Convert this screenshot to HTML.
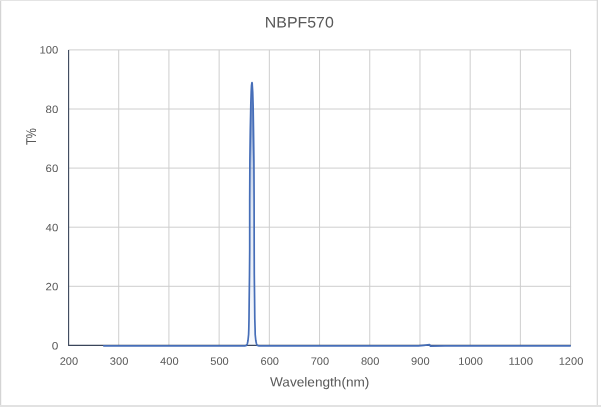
<!DOCTYPE html>
<html lang="en"><head><meta charset="utf-8"><title>NBPF570</title>
<style>
html,body{margin:0;padding:0;background:#fff;}
body{width:601px;height:407px;overflow:hidden;}
svg{display:block;}
text{font-family:"Liberation Sans",sans-serif;fill:#595959;}
</style></head><body>
<svg width="601" height="407" viewBox="0 0 601 407">
<rect x="0" y="0" width="601" height="407" fill="#ffffff"/>

<rect x="0" y="0" width="1" height="406" fill="#d4d4d4"/>
<rect x="0" y="0" width="598" height="1" fill="#e4e4e4"/>
<rect x="1" y="1" width="1" height="404" fill="#f6f6f6"/>
<rect x="596.7" y="0" width="1.2" height="406" fill="#d6d6d6"/>
<rect x="0" y="405" width="601" height="2" fill="#e2e2e2"/>
<line x1="118.71" y1="49.90" x2="118.71" y2="345.40" stroke="#cecece" stroke-width="1"/>
<line x1="168.92" y1="49.90" x2="168.92" y2="345.40" stroke="#cecece" stroke-width="1"/>
<line x1="219.13" y1="49.90" x2="219.13" y2="345.40" stroke="#cecece" stroke-width="1"/>
<line x1="269.34" y1="49.90" x2="269.34" y2="345.40" stroke="#cecece" stroke-width="1"/>
<line x1="319.55" y1="49.90" x2="319.55" y2="345.40" stroke="#cecece" stroke-width="1"/>
<line x1="369.76" y1="49.90" x2="369.76" y2="345.40" stroke="#cecece" stroke-width="1"/>
<line x1="419.97" y1="49.90" x2="419.97" y2="345.40" stroke="#cecece" stroke-width="1"/>
<line x1="470.18" y1="49.90" x2="470.18" y2="345.40" stroke="#cecece" stroke-width="1"/>
<line x1="520.39" y1="49.90" x2="520.39" y2="345.40" stroke="#cecece" stroke-width="1"/>
<line x1="570.60" y1="49.90" x2="570.60" y2="345.40" stroke="#cecece" stroke-width="1"/>
<line x1="68.50" y1="49.90" x2="571.10" y2="49.90" stroke="#cecece" stroke-width="1"/>
<line x1="68.50" y1="109.00" x2="571.10" y2="109.00" stroke="#cecece" stroke-width="1"/>
<line x1="68.50" y1="168.10" x2="571.10" y2="168.10" stroke="#cecece" stroke-width="1"/>
<line x1="68.50" y1="227.20" x2="571.10" y2="227.20" stroke="#cecece" stroke-width="1"/>
<line x1="68.50" y1="286.30" x2="571.10" y2="286.30" stroke="#cecece" stroke-width="1"/>
<polyline fill="none" stroke="#3a455a" stroke-width="1.1" stroke-linejoin="round" points="68.60,49.90 68.60,345.40 570.60,345.40"/>
<defs><linearGradient id="pk" gradientUnits="userSpaceOnUse" x1="0" y1="82" x2="0" y2="345"><stop offset="0" stop-color="#466eb8" stop-opacity="0.85"/><stop offset="0.2" stop-color="#466eb8" stop-opacity="0.6"/><stop offset="0.32" stop-color="#466eb8" stop-opacity="0.3"/><stop offset="0.5" stop-color="#466eb8" stop-opacity="0.14"/><stop offset="1" stop-color="#466eb8" stop-opacity="0.04"/></linearGradient></defs>
<polygon fill="url(#pk)" stroke="none" points="245.30,345.80 246.40,345.40 247.00,344.60 247.40,343.40 247.70,342.00 247.95,340.50 248.30,337.50 248.55,334.50 248.75,329.00 248.95,319.00 249.20,300.00 249.50,275.00 249.65,250.00 249.72,200.00 249.90,160.00 250.30,130.00 250.75,105.00 251.15,92.00 251.50,85.50 251.75,83.40 252.00,82.50 252.20,83.40 252.30,85.50 252.65,92.00 253.05,105.00 253.50,130.00 253.90,160.00 254.08,200.00 254.15,250.00 254.30,275.00 254.60,300.00 254.85,319.00 255.05,329.00 255.25,334.50 255.50,337.50 255.85,340.50 256.10,342.00 256.40,343.40 256.80,344.60 257.40,345.40 258.50,345.80"/>
<polyline fill="none" stroke="#466eb8" stroke-width="1.7" stroke-linejoin="round" stroke-linecap="butt" points="103.2,345.8 150.0,345.8 200.0,345.8 245.3,345.8 246.4,345.4 247.0,344.6 247.4,343.4 247.7,342.0 248.0,340.5 248.3,337.5 248.6,334.5 248.8,329.0 249.0,319.0 249.2,300.0 249.5,275.0 249.7,250.0 249.7,200.0 249.9,160.0 250.3,130.0 250.8,105.0 251.2,92.0 251.5,85.5 251.8,83.4 252.0,82.5 252.2,83.4 252.3,85.5 252.7,92.0 253.1,105.0 253.5,130.0 253.9,160.0 254.1,200.0 254.2,250.0 254.3,275.0 254.6,300.0 254.8,319.0 255.1,329.0 255.2,334.5 255.5,337.5 255.8,340.5 256.1,342.0 256.4,343.4 256.8,344.6 257.4,345.4 258.5,345.8 300.0,345.8 380.0,345.8 418.5,345.8 424.0,345.3 429.6,344.7 430.3,346.1 445.0,345.9 480.0,345.8 530.0,345.8 570.8,345.8"/>
<text transform="translate(299.3,27.4) rotate(0.03)" font-size="15.3" text-anchor="middle" textLength="69" lengthAdjust="spacingAndGlyphs">NBPF570</text>
<text transform="translate(58.3,53.50) rotate(0.03)" font-size="10.6" text-anchor="end" textLength="18.8" lengthAdjust="spacingAndGlyphs">100</text>
<text transform="translate(58.3,113.00) rotate(0.03)" font-size="10.6" text-anchor="end" textLength="12.7" lengthAdjust="spacingAndGlyphs">80</text>
<text transform="translate(58.3,172.10) rotate(0.03)" font-size="10.6" text-anchor="end" textLength="12.7" lengthAdjust="spacingAndGlyphs">60</text>
<text transform="translate(58.3,231.20) rotate(0.03)" font-size="10.6" text-anchor="end" textLength="12.7" lengthAdjust="spacingAndGlyphs">40</text>
<text transform="translate(58.3,290.30) rotate(0.03)" font-size="10.6" text-anchor="end" textLength="12.7" lengthAdjust="spacingAndGlyphs">20</text>
<text transform="translate(58.3,349.40) rotate(0.03)" font-size="10.6" text-anchor="end" textLength="6.6" lengthAdjust="spacingAndGlyphs">0</text>
<text transform="translate(68.90,364.65) rotate(0.03)" font-size="10.6" text-anchor="middle" textLength="18.5" lengthAdjust="spacingAndGlyphs">200</text>
<text transform="translate(119.11,364.65) rotate(0.03)" font-size="10.6" text-anchor="middle" textLength="18.5" lengthAdjust="spacingAndGlyphs">300</text>
<text transform="translate(169.32,364.65) rotate(0.03)" font-size="10.6" text-anchor="middle" textLength="18.5" lengthAdjust="spacingAndGlyphs">400</text>
<text transform="translate(219.53,364.65) rotate(0.03)" font-size="10.6" text-anchor="middle" textLength="18.5" lengthAdjust="spacingAndGlyphs">500</text>
<text transform="translate(269.74,364.65) rotate(0.03)" font-size="10.6" text-anchor="middle" textLength="18.5" lengthAdjust="spacingAndGlyphs">600</text>
<text transform="translate(319.95,364.65) rotate(0.03)" font-size="10.6" text-anchor="middle" textLength="18.5" lengthAdjust="spacingAndGlyphs">700</text>
<text transform="translate(370.16,364.65) rotate(0.03)" font-size="10.6" text-anchor="middle" textLength="18.5" lengthAdjust="spacingAndGlyphs">800</text>
<text transform="translate(420.37,364.65) rotate(0.03)" font-size="10.6" text-anchor="middle" textLength="18.5" lengthAdjust="spacingAndGlyphs">900</text>
<text transform="translate(470.58,364.65) rotate(0.03)" font-size="10.6" text-anchor="middle" textLength="24.6" lengthAdjust="spacingAndGlyphs">1000</text>
<text transform="translate(520.79,364.65) rotate(0.03)" font-size="10.6" text-anchor="middle" textLength="24.6" lengthAdjust="spacingAndGlyphs">1100</text>
<text transform="translate(571.00,364.65) rotate(0.03)" font-size="10.6" text-anchor="middle" textLength="24.6" lengthAdjust="spacingAndGlyphs">1200</text>
<text transform="translate(319.7,386.4) rotate(0.03)" font-size="13.2" text-anchor="middle" textLength="99.4" lengthAdjust="spacingAndGlyphs">Wavelength(nm)</text>
<text transform="translate(35.9,136.6) rotate(-90.03)" font-size="14.2" text-anchor="middle" textLength="17" lengthAdjust="spacingAndGlyphs">T%</text>
</svg>
</body></html>
